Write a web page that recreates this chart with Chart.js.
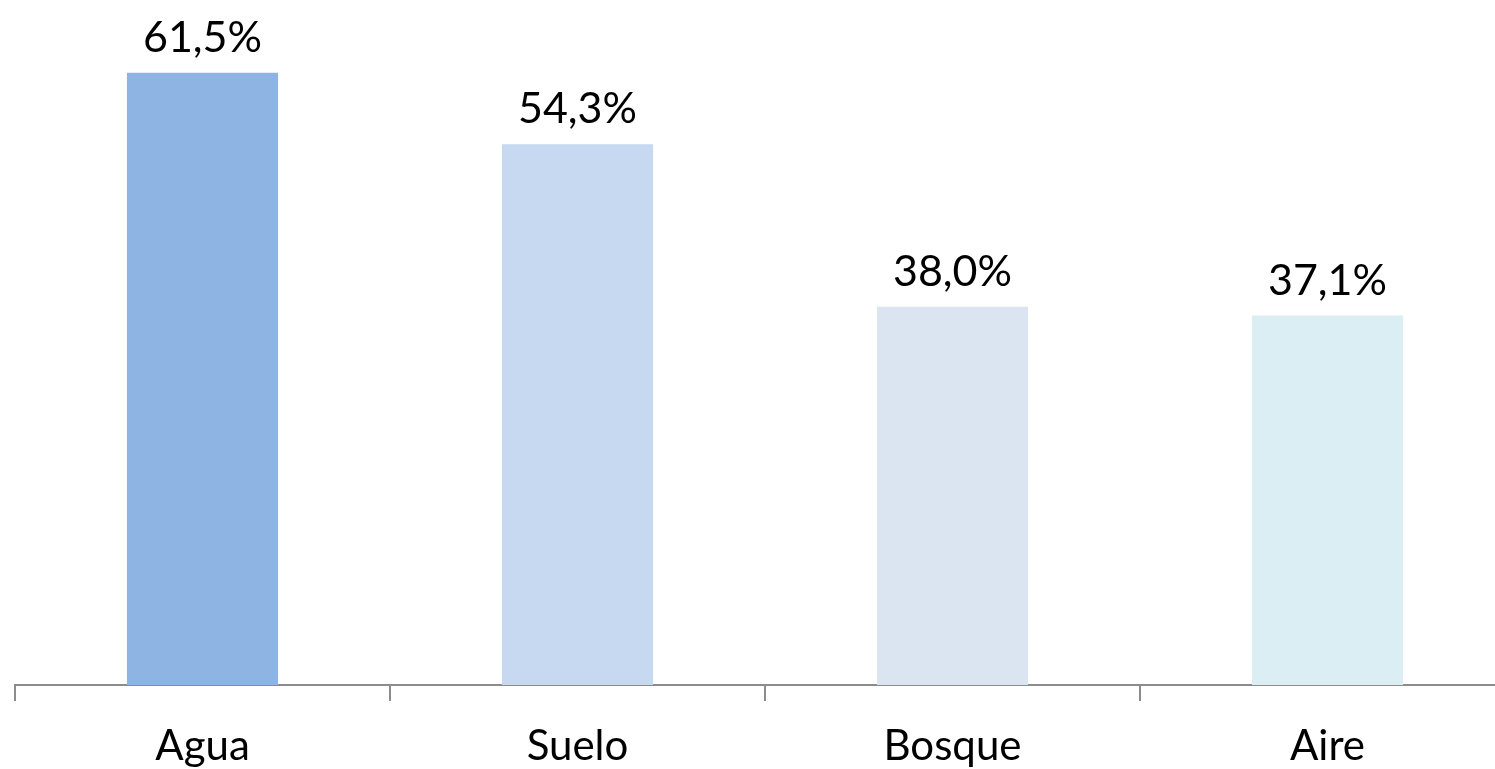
<!DOCTYPE html>
<html>
<head>
<meta charset="utf-8">
<script src="https://cdn.jsdelivr.net/npm/chart.js@4.4.1/dist/chart.umd.min.js"></script>
<style>
  html, body { margin: 0; padding: 0; background: #fff; overflow: hidden; }
  #wrap { width: 1515px; height: 769px; }
</style>
</head>
<body>
<div id="wrap"><canvas id="chart"></canvas></div>
<script>
const categories = ['Agua', 'Suelo', 'Bosque', 'Aire'];
const values = [61.5, 54.3, 38.0, 37.1];
const barColors = ['#8EB4E3', '#C6D9F1', '#DBE5F1', '#DAEEF3'];

const FONT = "Lato, 'Open Sans', sans-serif";

// value labels above each bar, comma decimal
const valueLabels = {
    id: 'valueLabels',
    afterDatasetsDraw(chart) {
        const ctx = chart.ctx;
        const meta = chart.getDatasetMeta(0);
        ctx.save();
        ctx.font = '43px ' + FONT;
        ctx.fillStyle = '#000';
        ctx.textAlign = 'center';
        ctx.textBaseline = 'alphabetic';
        meta.data.forEach((bar, i) => {
            const txt = values[i].toFixed(1).replace('.', ',') + '%';
            ctx.fillText(txt, bar.x, bar.y - 21);
        });
        ctx.restore();
    }
};

new Chart(document.getElementById('chart'), {
    type: 'bar',
    data: {
        labels: categories,
        datasets: [{
            data: values,
            backgroundColor: barColors,
            borderWidth: 0,
            categoryPercentage: 1,
            barPercentage: 0.403
        }]
    },
    options: {
        responsive: true,
        maintainAspectRatio: false,
        animation: false,
        layout: { padding: { left: 15, right: 0, top: 0, bottom: 0 } },
        plugins: { legend: { display: false }, tooltip: { enabled: false } },
        scales: {
            x: {
                grid: { offset: true, drawOnChartArea: false, drawTicks: true, tickLength: 16, color: '#8C8C8C', lineWidth: 2 },
                border: { display: true, color: '#8C8C8C', width: 2 },
                ticks: { color: '#000', font: { family: FONT, size: 42 }, padding: 20 },
                afterFit(scale) { scale.height = 84; }
            },
            y: {
                display: false,
                min: 0,
                max: 68.8
            }
        }
    },
    plugins: [valueLabels]
});
</script>
</body>
</html>
